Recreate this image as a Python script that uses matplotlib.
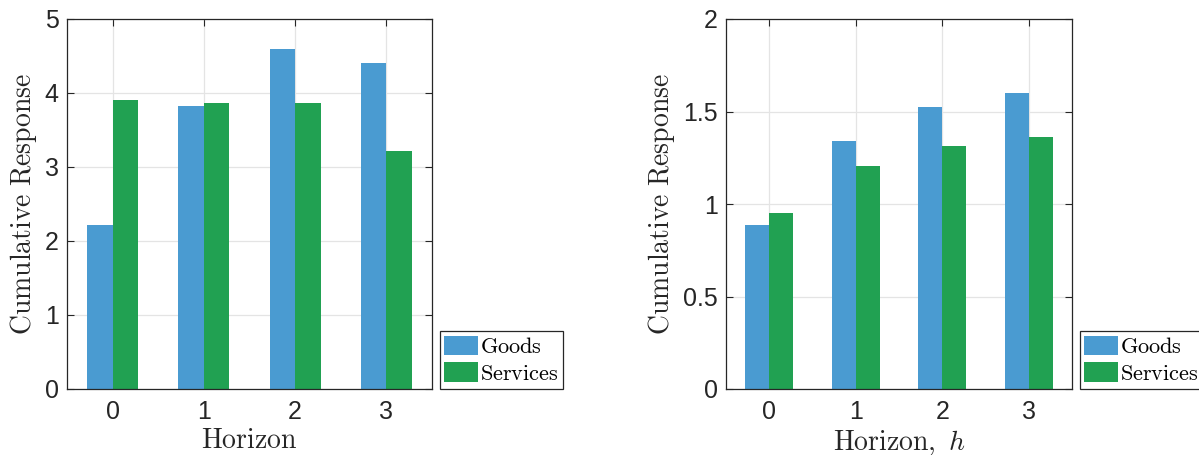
import matplotlib
matplotlib.use("Agg")
import matplotlib.pyplot as plt
import numpy as np

plt.rcParams["mathtext.fontset"] = "cm"
plt.rcParams["font.family"] = ["Liberation Sans", "DejaVu Sans"]

horizons = [0, 1, 2, 3]

# left panel
goods_left = [2.21, 3.83, 4.59, 4.40]
services_left = [3.90, 3.87, 3.865, 3.22]

# right panel
goods_right = [0.885, 1.339, 1.523, 1.598]
services_right = [0.950, 1.205, 1.315, 1.362]

blue = "#4a9bd1"
green = "#21a152"

W, H = 1199, 455
fig = plt.figure(figsize=(W / 100, H / 100), dpi=100)


def panel(rect, goods, services, ylim, yticks, yticklabels, xlabel, legpos):
    ax = fig.add_axes(rect)
    x = np.array(horizons)
    bw = 0.28
    ax.bar(x - bw / 2, goods, bw, color=blue, label=r"$\mathrm{Goods}$", zorder=3)
    ax.bar(x + bw / 2, services, bw, color=green, label=r"$\mathrm{Services}$", zorder=3)
    ax.set_xlim(-0.5, 3.5)
    ax.set_ylim(*ylim)
    ax.set_xticks(horizons)
    ax.set_yticks(yticks)
    ax.set_yticklabels(yticklabels)
    ax.grid(True, color="#e4e4e4", linewidth=0.9, zorder=0)
    ax.tick_params(direction="in", top=True, right=True, labelsize=18, colors="#262626",
                   length=5, width=0.8)
    ax.tick_params(axis="x", pad=8)
    ax.tick_params(axis="y", pad=6)
    for s in ax.spines.values():
        s.set_color("#262626")
        s.set_linewidth(0.9)
        s.set_zorder(4)
    ax.set_xlabel(xlabel, fontsize=20, labelpad=3, color="#262626")
    ax.set_ylabel(r"$\mathrm{Cumulative\ Response}$", fontsize=20, labelpad=4, color="#262626")
    leg = ax.legend(loc="lower left", bbox_to_anchor=legpos, bbox_transform=fig.transFigure,
                    borderaxespad=0, fancybox=False, framealpha=1, edgecolor="#262626",
                    fontsize=16, handlelength=1.5, handleheight=0.95, handletextpad=0.1,
                    borderpad=0.2, labelspacing=0.2)
    leg.get_frame().set_linewidth(0.9)
    return ax


panel([67 / W, 66 / H, 365 / W, 370 / H], goods_left, services_left,
      (0, 5), [0, 1, 2, 3, 4, 5], ["0", "1", "2", "3", "4", "5"],
      r"$\mathrm{Horizon}$", (440 / W, 66 / H))
panel([726 / W, 66 / H, 346 / W, 370 / H], goods_right, services_right,
      (0, 2), [0, 0.5, 1, 1.5, 2], ["0", "0.5", "1", "1.5", "2"],
      r"$\mathrm{Horizon},\ h$", (1080 / W, 66 / H))

fig.savefig("out.png", dpi=100)
